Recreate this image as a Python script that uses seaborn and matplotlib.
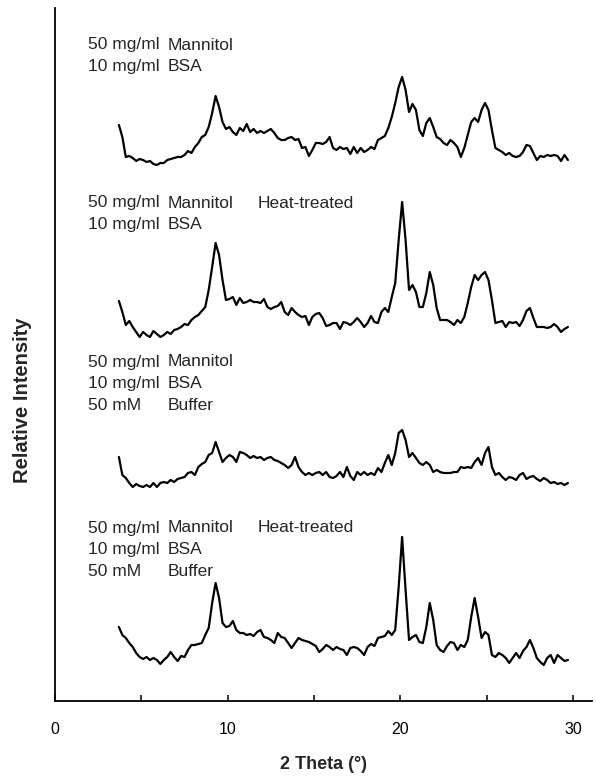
import numpy as np
import pandas as pd
import matplotlib
matplotlib.use("Agg")
import matplotlib.pyplot as plt
import seaborn as sns

# ---------------- data ----------------
theta = [3.7, 3.9, 4.1, 4.3, 4.5, 4.7, 4.9, 5.1, 5.3, 5.5,
         5.7, 5.9, 6.1, 6.3, 6.5, 6.7, 6.9, 7.1, 7.3, 7.5,
         7.7, 7.9, 8.1, 8.3, 8.5, 8.7, 8.9, 9.1, 9.3, 9.5,
         9.7, 9.9, 10.1, 10.3, 10.5, 10.7, 10.9, 11.1, 11.3, 11.5,
         11.7, 11.9, 12.1, 12.3, 12.5, 12.7, 12.9, 13.1, 13.3, 13.5,
         13.7, 13.9, 14.1, 14.3, 14.5, 14.7, 14.9, 15.1, 15.3, 15.5,
         15.7, 15.9, 16.1, 16.3, 16.5, 16.7, 16.9, 17.1, 17.3, 17.5,
         17.7, 17.9, 18.1, 18.3, 18.5, 18.7, 18.9, 19.1, 19.3, 19.5,
         19.7, 19.9, 20.1, 20.3, 20.5, 20.7, 20.9, 21.1, 21.3, 21.5,
         21.7, 21.9, 22.1, 22.3, 22.5, 22.7, 22.9, 23.1, 23.3, 23.5,
         23.7, 23.9, 24.1, 24.3, 24.5, 24.7, 24.9, 25.1, 25.3, 25.5,
         25.7, 25.9, 26.1, 26.3, 26.5, 26.7, 26.9, 27.1, 27.3, 27.5,
         27.7, 27.9, 28.1, 28.3, 28.5, 28.7, 28.9, 29.1, 29.3, 29.5,
         29.7]

# Mannitol + BSA
int_mannitol_bsa = [45, 33, 13, 14, 12, 9, 11, 10, 8, 9,
                    6, 5, 7, 7, 10, 11, 12, 13, 13, 15,
                    19, 17, 23, 27, 33, 35, 43, 57, 74, 63,
                    48, 41, 43, 38, 35, 42, 39, 46, 38, 41,
                    37, 39, 37, 39, 41, 37, 32, 30, 30, 32,
                    33, 30, 31, 22, 23, 14, 20, 27, 27, 26,
                    28, 33, 22, 20, 23, 21, 22, 16, 23, 17,
                    22, 18, 20, 23, 21, 30, 32, 34, 42, 53,
                    67, 83, 93, 80, 58, 66, 60, 40, 34, 47,
                    52, 43, 33, 31, 27, 25, 30, 27, 23, 13,
                    22, 35, 48, 52, 48, 60, 67, 60, 40, 22,
                    20, 18, 15, 17, 14, 13, 14, 18, 25, 24,
                    17, 10, 14, 13, 15, 14, 15, 14, 9, 15,
                    10]

# Mannitol + BSA, heat-treated
int_mannitol_bsa_heat = [39, 28, 15, 19, 13, 8, 3, 8, 5, 3,
                         9, 6, 3, 5, 8, 6, 10, 11, 13, 16,
                         15, 20, 23, 25, 29, 33, 50, 73, 97, 85,
                         60, 40, 41, 43, 35, 42, 37, 38, 40, 38,
                         38, 37, 41, 33, 31, 33, 34, 38, 28, 25,
                         32, 28, 25, 23, 24, 15, 23, 26, 27, 22,
                         14, 15, 17, 17, 11, 18, 17, 15, 18, 22,
                         18, 13, 17, 24, 18, 17, 28, 32, 28, 43,
                         57, 100, 138, 100, 50, 55, 48, 33, 33, 47,
                         68, 55, 32, 20, 20, 20, 18, 15, 20, 17,
                         23, 37, 53, 65, 60, 65, 68, 60, 40, 17,
                         18, 19, 13, 18, 17, 18, 14, 20, 29, 32,
                         22, 13, 13, 13, 12, 13, 16, 13, 8, 11,
                         13]

# Mannitol + BSA + buffer
int_mannitol_bsa_buffer = [33, 15, 12, 7, 3, 6, 4, 3, 5, 3,
                           7, 3, 7, 8, 7, 10, 8, 11, 12, 13,
                           17, 18, 15, 23, 26, 28, 35, 37, 48, 38,
                           28, 32, 35, 33, 28, 38, 37, 35, 32, 34,
                           32, 33, 30, 32, 33, 30, 29, 27, 25, 22,
                           25, 33, 23, 18, 15, 17, 15, 17, 18, 15,
                           18, 13, 12, 14, 18, 13, 23, 14, 10, 18,
                           15, 18, 15, 17, 15, 22, 18, 27, 35, 25,
                           37, 57, 60, 50, 33, 37, 32, 27, 25, 28,
                           25, 18, 20, 18, 17, 17, 17, 18, 18, 23,
                           22, 23, 22, 28, 32, 25, 37, 43, 23, 15,
                           17, 13, 10, 13, 12, 10, 15, 17, 11, 13,
                           14, 11, 9, 12, 10, 7, 8, 6, 7, 5,
                           7]

# Mannitol + BSA + buffer, heat-treated
int_mannitol_bsa_buffer_heat = [41, 33, 30, 25, 21, 15, 11, 9, 11, 8,
                                10, 8, 4, 8, 11, 16, 11, 7, 12, 11,
                                18, 23, 23, 24, 25, 33, 40, 65, 85, 70,
                                45, 41, 42, 47, 38, 35, 35, 33, 34, 32,
                                36, 38, 31, 30, 28, 25, 35, 31, 30, 25,
                                20, 25, 30, 28, 27, 26, 24, 22, 16, 19,
                                23, 21, 18, 21, 19, 18, 13, 20, 21, 20,
                                17, 13, 21, 24, 22, 30, 31, 32, 37, 33,
                                38, 81, 131, 78, 28, 31, 33, 26, 25, 41,
                                65, 48, 23, 18, 16, 22, 26, 25, 18, 23,
                                21, 28, 51, 70, 51, 30, 36, 33, 13, 11,
                                15, 13, 10, 5, 10, 15, 10, 17, 21, 28,
                                20, 10, 6, 3, 10, 13, 5, 13, 10, 7,
                                8]

sample_names = ["Mannitol/BSA", "Mannitol/BSA heat", "Mannitol/BSA/Buffer",
                "Mannitol/BSA/Buffer heat"]
stack_offsets = [535, 365, 215, 37]

label_col1 = [["50 mg/ml", "10 mg/ml"],
              ["50 mg/ml", "10 mg/ml"],
              ["50 mg/ml", "10 mg/ml", "50 mM"],
              ["50 mg/ml", "10 mg/ml", "50 mM"]]
label_col2 = [["Mannitol", "BSA"],
              ["Mannitol", "BSA"],
              ["Mannitol", "BSA", "Buffer"],
              ["Mannitol", "BSA", "Buffer"]]
label_heat = ["", "Heat-treated", "", "Heat-treated"]
label_top_y = [660, 502, 343, 177]

x_ticks_major = [0, 10, 20, 30]
x_ticks_minor = [5, 15, 25]

# ---------------- build table ----------------
series = [int_mannitol_bsa, int_mannitol_bsa_heat,
          int_mannitol_bsa_buffer, int_mannitol_bsa_buffer_heat]
frames = []
for name, vals, off in zip(sample_names, series, stack_offsets):
    frames.append(pd.DataFrame({"theta": theta,
                                "intensity": np.asarray(vals, float) + off,
                                "sample": name}))
df = pd.concat(frames, ignore_index=True)

# ---------------- plot ----------------
sns.set_style("ticks")
plt.rcParams["font.family"] = ["Liberation Sans", "DejaVu Sans"]

fig = plt.figure(figsize=(5.96, 7.76), dpi=100)
ax = fig.add_axes([55 / 596, 1 - 701 / 776, (592 - 55) / 596, (701 - 8) / 776])

sns.lineplot(data=df, x="theta", y="intensity", hue="sample", units="sample",
             estimator=None, sort=False, palette=["black"] * 4,
             linewidth=1.6, legend=False, ax=ax)

ax.set_xlim(0, (592 - 55) / 17.27)
ax.set_ylim(4, 697)

ax.set_xticks(x_ticks_major)
ax.set_xticks(x_ticks_minor, minor=True)
ax.set_xticklabels([str(t) for t in x_ticks_major], fontsize=11.5)
ax.tick_params(axis="x", which="both", direction="in", length=4, width=1.1,
               pad=15, colors="black")
ax.set_yticks([])

for s in ["top", "right"]:
    ax.spines[s].set_visible(False)
for s in ["left", "bottom"]:
    ax.spines[s].set_linewidth(1.3)
    ax.spines[s].set_color("black")

ax.set_xlabel("2 Theta (°)", fontsize=13, fontweight="bold", labelpad=14)
ax.set_ylabel("Relative Intensity", fontsize=14.5, fontweight="bold",
              va="center")
ax.yaxis.set_label_coords(-33 / 537, (701 - 400) / 693)

x_c1 = (88 - 55) / 17.27
x_c2 = (168 - 55) / 17.27
x_c3 = (258 - 55) / 17.27
line_gap = 21.7
for i in range(4):
    y0 = label_top_y[i]
    for j, (a, b) in enumerate(zip(label_col1[i], label_col2[i])):
        y = y0 - j * line_gap
        ax.text(x_c1, y, a, fontsize=12.5, va="center", ha="left")
        ax.text(x_c2, y, b, fontsize=12.5, va="center", ha="left")
    if label_heat[i]:
        ax.text(x_c3, y0, label_heat[i], fontsize=12.5, va="center", ha="left")

fig.savefig("out.png", dpi=100)
